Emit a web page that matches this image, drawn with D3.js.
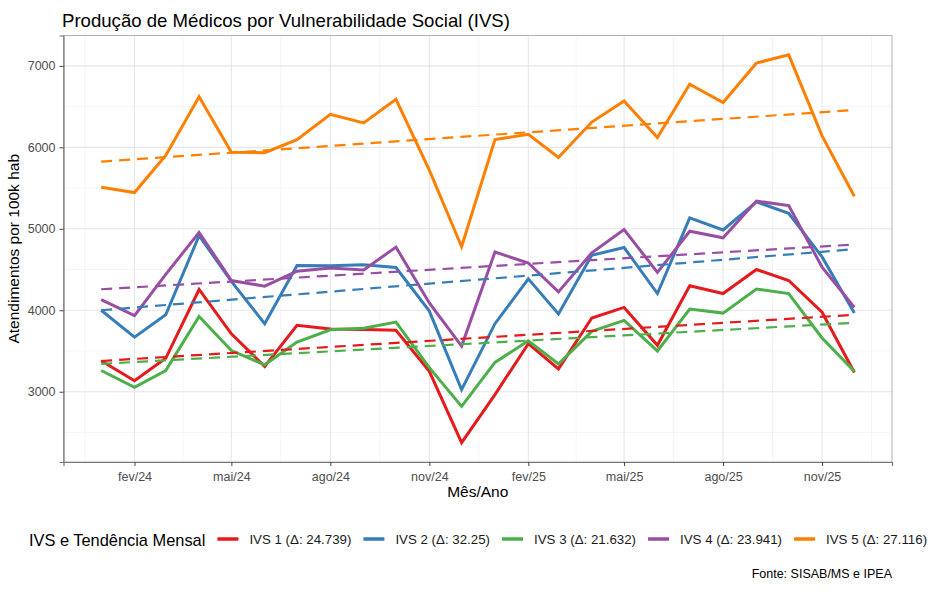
<!DOCTYPE html>
<html>
<head>
<meta charset="utf-8">
<script src="https://cdn.jsdelivr.net/npm/d3@7"></script>
<style>
  body { margin: 0; background: #fff; }
  text { font-family: "Liberation Sans", Arial, sans-serif; }
</style>
</head>
<body>
<div id="chart"></div>
<script>
// months of the series (first day of each month)
var months = ["2024-01","2024-02","2024-03","2024-04","2024-05","2024-06",
              "2024-07","2024-08","2024-09","2024-10","2024-11","2024-12",
              "2025-01","2025-02","2025-03","2025-04","2025-05","2025-06",
              "2025-07","2025-08","2025-09","2025-10","2025-11","2025-12"];

var seriesNames = ["IVS 1", "IVS 2", "IVS 3", "IVS 4", "IVS 5"];
var deltaLabels = ["24.739", "32.25", "21.632", "23.941", "27.116"];
var colors = ["#E41A1C", "#377EB8", "#4DAF4A", "#984EA3", "#FF7F00"];

var ivs1 = [3380, 3135, 3410, 4255, 3710, 3310, 3815, 3770, 3765, 3755, 3250, 2375,
            2965, 3590, 3280, 3905, 4035, 3570, 4300, 4205, 4500, 4365, 3975, 3235];
var ivs2 = [4000, 3670, 3945, 4915, 4355, 3835, 4550, 4545, 4560, 4525, 3990, 3025,
            3835, 4385, 3955, 4675, 4770, 4205, 5135, 4985, 5330, 5190, 4655, 3965];
var ivs3 = [3260, 3055, 3260, 3925, 3505, 3330, 3610, 3760, 3780, 3855, 3295, 2820,
            3360, 3625, 3340, 3740, 3875, 3500, 4015, 3965, 4260, 4205, 3660, 3250];
var ivs4 = [4130, 3935, 4440, 4955, 4365, 4295, 4480, 4520, 4495, 4775, 4090, 3560,
            4715, 4580, 4225, 4705, 4990, 4465, 4970, 4890, 5340, 5285, 4530, 4035];
var ivs5 = [5510, 5445, 5900, 6620, 5940, 5935, 6095, 6405, 6300, 6590, 5720, 4780,
            6095, 6160, 5875, 6310, 6570, 6120, 6775, 6550, 7035, 7135, 6140, 5400];

var tickMonths = ["2024-02","2024-05","2024-08","2024-11","2025-02","2025-05","2025-08","2025-11"];
var tickLabels = ["fev/24","mai/24","ago/24","nov/24","fev/25","mai/25","ago/25","nov/25"];
var yTicks = [3000, 4000, 5000, 6000, 7000];

var W = 934, H = 598;
var margin = {top: 35.5, right: 42, bottom: 136, left: 63.5};
var width = W - margin.left - margin.right,
    height = H - margin.top - margin.bottom;

var parseMonth = d3.timeParse("%Y-%m");
var dates = months.map(parseMonth);
var allValues = [ivs1, ivs2, ivs3, ivs4, ivs5];

var series = seriesNames.map(function(name, i) {
  return {name: name, color: colors[i], delta: deltaLabels[i],
          values: allValues[i].map(function(v, j) { return {date: dates[j], value: v}; })};
});

// linear trend (lm) per series, fitted on date
series.forEach(function(s) {
  var xs = s.values.map(function(d) { return +d.date; }),
      ys = s.values.map(function(d) { return d.value; });
  var mx = d3.mean(xs), my = d3.mean(ys);
  var num = d3.sum(xs, function(x, k) { return (x - mx) * (ys[k] - my); }),
      den = d3.sum(xs, function(x) { return (x - mx) * (x - mx); });
  var b = num / den, a = my - b * mx;
  s.trend = [dates[0], dates[dates.length - 1]].map(function(d) {
    return {date: d, value: a + b * (+d)};
  });
});

// ggplot-like 5% expansion
var t0 = +dates[0], t1 = +dates[dates.length - 1], tPad = (t1 - t0) * 0.05;
var x = d3.scaleTime().domain([new Date(t0 - tPad), new Date(t1 + tPad)]).range([0, width]);
var vMin = d3.min(allValues, function(a) { return d3.min(a); }),
    vMax = d3.max(allValues, function(a) { return d3.max(a); }),
    vPad = (vMax - vMin) * 0.05;
var y = d3.scaleLinear().domain([vMin - vPad, vMax + vPad]).range([height, 0]);

var svg = d3.select("#chart").append("svg")
    .attr("width", W).attr("height", H);

svg.append("text")
    .attr("x", 62).attr("y", 26.5)
    .attr("font-size", "18.6px")
    .attr("fill", "#000")
    .text("Produção de Médicos por Vulnerabilidade Social (IVS)");

var g = svg.append("g")
    .attr("transform", "translate(" + margin.left + "," + margin.top + ")");

// minor gridlines
var majorDates = tickMonths.map(parseMonth);
var extMajors = [d3.timeMonth.offset(majorDates[0], -3)].concat(majorDates)
    .concat([d3.timeMonth.offset(majorDates[majorDates.length - 1], 3)]);
var minorDates = [];
for (var k = 0; k < extMajors.length - 1; k++) {
  minorDates.push(new Date((+extMajors[k] + +extMajors[k + 1]) / 2));
}
minorDates = minorDates.filter(function(d) { return x(d) >= 0 && x(d) <= width; });
var minorY = [2500, 3500, 4500, 5500, 6500].filter(function(v) { return y(v) >= 0 && y(v) <= height; });

g.selectAll("line.minorx").data(minorDates).enter().append("line")
    .attr("x1", function(d) { return x(d); }).attr("x2", function(d) { return x(d); })
    .attr("y1", 0).attr("y2", height)
    .attr("stroke", "#f3f3f3").attr("stroke-width", 0.8);
g.selectAll("line.minory").data(minorY).enter().append("line")
    .attr("y1", function(d) { return y(d); }).attr("y2", function(d) { return y(d); })
    .attr("x1", 0).attr("x2", width)
    .attr("stroke", "#f3f3f3").attr("stroke-width", 0.8);

// major gridlines
g.selectAll("line.majorx").data(majorDates).enter().append("line")
    .attr("x1", function(d) { return x(d); }).attr("x2", function(d) { return x(d); })
    .attr("y1", 0).attr("y2", height)
    .attr("stroke", "#e6e6e6").attr("stroke-width", 1.1);
g.selectAll("line.majory").data(yTicks).enter().append("line")
    .attr("y1", function(d) { return y(d); }).attr("y2", function(d) { return y(d); })
    .attr("x1", 0).attr("x2", width)
    .attr("stroke", "#e6e6e6").attr("stroke-width", 1.1);

// panel border
g.append("rect")
    .attr("width", width).attr("height", height)
    .attr("fill", "none").attr("stroke", "#b3b3b3").attr("stroke-width", 1);

// data lines
var line = d3.line()
    .x(function(d) { return x(d.date); })
    .y(function(d) { return y(d.value); });

g.selectAll("path.serie").data(series).enter().append("path")
    .attr("class", "serie")
    .attr("d", function(d) { return line(d.values); })
    .attr("fill", "none")
    .attr("stroke", function(d) { return d.color; })
    .attr("stroke-width", 3)
    .attr("stroke-linejoin", "miter");

g.selectAll("path.trend").data(series).enter().append("path")
    .attr("class", "trend")
    .attr("d", function(d) { return line(d.trend); })
    .attr("fill", "none")
    .attr("stroke", function(d) { return d.color; })
    .attr("stroke-width", 2.2)
    .attr("stroke-dasharray", "11,7");

// axes
var xAxis = d3.axisBottom(x)
    .tickValues(majorDates)
    .tickFormat(function(d, i) { return tickLabels[i]; })
    .tickSize(4).tickPadding(6);
var yAxis = d3.axisLeft(y)
    .tickValues(yTicks)
    .tickFormat(d3.format("d"))
    .tickSize(4).tickPadding(4);

var gx = g.append("g").attr("transform", "translate(0," + height + ")").call(xAxis);
var gy = g.append("g").call(yAxis);
[gx, gy].forEach(function(ax) {
  ax.select(".domain").attr("stroke", "#777").attr("stroke-width", 1.2);
  ax.selectAll(".tick line").attr("stroke", "#444").attr("stroke-width", 1);
  ax.selectAll(".tick text")
    .attr("fill", "#4d4d4d")
    .attr("font-size", "12.5px")
    .attr("font-family", "Liberation Sans, Arial, sans-serif");
});

svg.append("text")
    .attr("x", margin.left + width / 2).attr("y", 497)
    .attr("text-anchor", "middle")
    .attr("font-size", "15.5px")
    .text("Mês/Ano");

svg.append("text")
    .attr("transform", "translate(19," + (margin.top + height / 2) + ") rotate(-90)")
    .attr("text-anchor", "middle")
    .attr("font-size", "15.5px")
    .text("Atendimentos por 100k hab");

// legend
var legend = svg.append("g");
var lt = legend.append("text")
    .attr("x", 0).attr("y", 545.5)
    .attr("font-size", "16.4px")
    .text("IVS e Tendência Mensal");
var cx = lt.node().getComputedTextLength() + 12;
series.forEach(function(s) {
  legend.append("line")
      .attr("x1", cx).attr("x2", cx + 21)
      .attr("y1", 539).attr("y2", 539)
      .attr("stroke", s.color).attr("stroke-width", 3.5);
  var t = legend.append("text")
      .attr("x", cx + 32).attr("y", 544)
      .attr("font-size", "13.3px")
      .attr("fill", "#1a1a1a")
      .text(s.name + " (Δ: " + s.delta + ")");
  cx += 32 + t.node().getComputedTextLength() + 12;
});
cx -= 12;
legend.attr("transform", "translate(" + (478 - cx / 2) + ",0)");

svg.append("text")
    .attr("x", 892).attr("y", 578)
    .attr("text-anchor", "end")
    .attr("font-size", "12.5px")
    .text("Fonte: SISAB/MS e IPEA");
</script>
</body>
</html>
